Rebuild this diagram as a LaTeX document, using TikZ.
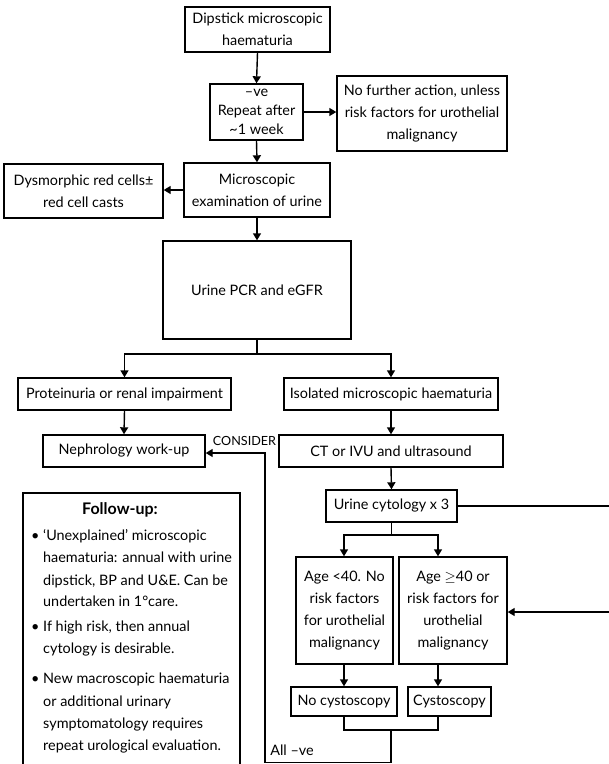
\documentclass[tikz,border=0pt]{standalone}
\usepackage{fontspec}
\setmainfont{Lato}
\usetikzlibrary{arrows.meta}
\tikzset{
  every node/.style={font=\fontsize{14.4}{22}\selectfont},
  bx/.style={draw, line width=1.4pt, inner sep=0pt, align=center},
  ln/.style={line width=1.4pt},
  ar/.style={line width=1.4pt, -{Triangle[length=7pt,width=8pt]}},
  fl/.style={anchor=base west, inner sep=0pt},
}
\begin{document}
\begin{tikzpicture}[x=1pt,y=-1pt]
\useasboundingbox (0,0) rectangle (609,764);
\node[bx, minimum width=145pt, minimum height=45pt] (dip) at (257.5,29.5) {Dipstick microscopic\\haematuria};
\node[bx, minimum width=93pt, minimum height=56pt, font=\fontsize{14.4}{19}\selectfont] (rep) at (256.5,112) {--ve\\Repeat after\\\textasciitilde1 week};
\node[bx, minimum width=170pt, minimum height=75pt] (nfa) at (422,113.5) {No further action, unless\\risk factors for urothelial\\malignancy};
\node[bx, minimum width=146pt, minimum height=54pt] (mic) at (257,190) {Microscopic\\examination of urine};
\node[bx, minimum width=159pt, minimum height=54pt] (dys) at (83.5,191) {Dysmorphic red cells±\\red cell casts};
\node[bx, minimum width=188pt, minimum height=98pt] (pcr) at (257,290) {Urine PCR and eGFR};
\node[bx, minimum width=213pt, minimum height=32pt] (pro) at (124.5,394) {Proteinuria or renal impairment};
\node[bx, minimum width=214pt, minimum height=32pt] (iso) at (391,394) {Isolated microscopic haematuria};
\node[bx, minimum width=162pt, minimum height=32pt] (nep) at (124,451) {Nephrology work-up};
\node[bx, minimum width=224pt, minimum height=32pt] (ct) at (391,451) {CT or IVU and ultrasound};
\node[bx, minimum width=131pt, minimum height=32pt] (cyt) at (391.5,506) {Urine cytology x 3};
\node[bx, minimum width=97pt, minimum height=107pt] (ay) at (344.5,610.5) {Age <40. No\\risk factors\\for urothelial\\malignancy};
\node[bx, minimum width=108pt, minimum height=107pt] (ao) at (453,610.5) {Age $\geq$40 or\\risk factors for\\urothelial\\malignancy};
\node[bx, minimum width=106pt, minimum height=29pt] (noc) at (344,701.5) {No cystoscopy};
\node[bx, minimum width=83pt, minimum height=29pt] (cys) at (449.5,701.5) {Cystoscopy};
\node[inner sep=0pt, font=\fontsize{12.6}{14}\selectfont] (con) at (244.5,441) {CONSIDER};
\node[inner sep=0pt] (allve) at (292,750) {All --ve};

% connectors
\draw[ar] (dip.south) -- (rep.north);
\draw[ar] (rep.east) -- (rep.east -| nfa.west);
\draw[ar] (rep.south) -- (mic.north);
\draw[ar] (mic.west) -- (mic.west -| dys.east);
\draw[ar] (mic.south) -- (pcr.north);
\coordinate (pb) at (257,354);
\draw[ln] (pcr.south) -- (pb);
\draw[ar] (pb) -| (pro.north);
\draw[ar] (pb) -| (iso.north);
\draw[ar] (pro.south) -- (nep.north);
\draw[ar] (iso.south) -- (ct.north);
\draw[ar] (ct.south) -- (cyt.north);
\coordinate (cb) at (391.5,535);
\coordinate (cl) at (344,535);
\coordinate (cr) at (438,535);
\draw[ln] (cyt.south) -- (cb);
\draw[ar] (cb) -| (cl) -- (cl |- ay.north);
\draw[ar] (cb) -| (cr) -- (cr |- ao.north);
\draw[ar] (ay.south -| cl) -- (noc.north -| cl);
\draw[ar] (ao.south -| cr) -- (cys.north -| cr);
\coordinate (jb) at (391,730);
\coordinate (bb) at (391,762.5);
\coordinate (lb) at (265,762.5);
\coordinate (lt) at (265,453);
\draw[ln] (noc.south -| cl) |- (jb) -| (cys.south -| cr);
\draw[ar] (jb) -- (bb) -- (lb) -- (lt) -- (lt -| nep.east);
\coordinate (re1) at (612,506);
\coordinate (re2) at (612,612);
\draw[ln] (cyt.east) -- (re1);
\draw[ar] (re2) -- (re2 -| ao.east);

% follow-up box
\coordinate (fa) at (23,770);
\coordinate (fb) at (240,770);
\draw[ln] (fa) |- (121,493) -| (fb);
\node[inner sep=0pt, anchor=base, font=\fontsize{16}{22}\bfseries] (fuh) at (120,514) {Follow-up:};
\node[fl] (b1) at (31,540.7) {\textbullet};
\node[fl] (l1) at (43,540.7) {‘Unexplained’ microscopic};
\node[fl] (l2) at (43,562.7) {haematuria: annual with urine};
\node[fl] (l3) at (43,585) {dipstick, BP and U\&E. Can be};
\node[fl] (l4) at (43,606.7) {undertaken in 1°care.};
\node[fl] (b2) at (31,631.7) {\textbullet};
\node[fl] (l5) at (43,631.7) {If high risk, then annual};
\node[fl] (l6) at (43,653.3) {cytology is desirable.};
\node[fl] (b3) at (31,683.3) {\textbullet};
\node[fl] (l7) at (43,683.3) {New macroscopic haematuria};
\node[fl] (l8) at (43,706) {or additional urinary};
\node[fl] (l9) at (43,728.3) {symptomatology requires};
\node[fl] (l10) at (43,750) {repeat urological evaluation.};
\end{tikzpicture}
\end{document}
